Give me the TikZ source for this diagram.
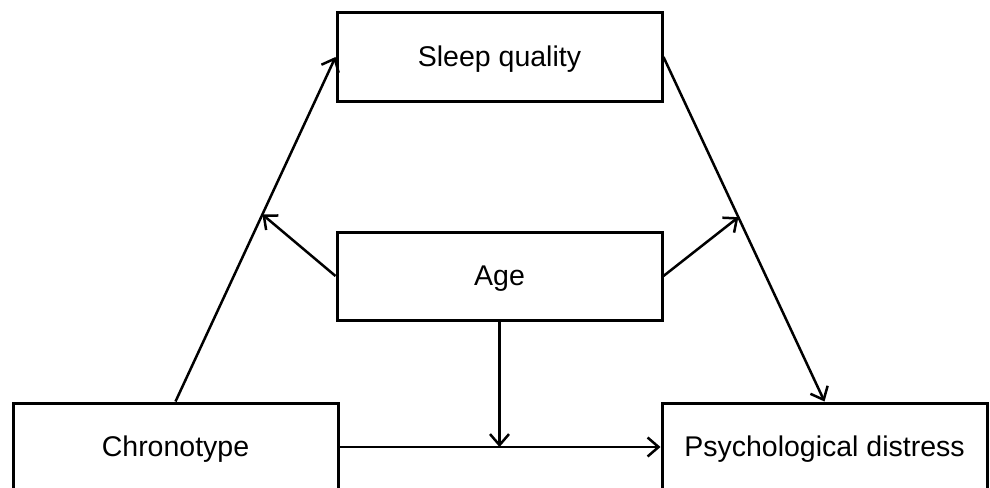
\documentclass[tikz,border=0pt]{standalone}
\usepackage{fontspec}
\setmainfont{Liberation Sans}
\usetikzlibrary{arrows.meta}
\begin{document}
\begin{tikzpicture}[x=1pt,y=-1pt,
  box/.style={draw,line width=3pt,minimum width=325pt,minimum height=88pt,inner sep=0pt,text height=21pt,text depth=2pt,font=\fontsize{28.5}{34}\selectfont},
  arr/.style={line width=2.5pt,-{Straight Barb[length=11pt,width=19pt,line width=2.5pt]}}]
\clip (0,0) rectangle (990,487);
\useasboundingbox (0,0) rectangle (990,487);
\node[box] (sleep) at (499.5,57) {Sleep quality};
\node[box] (age) at (499.5,276) {Age};
\node[box] (chrono) at (175.5,447) {Chronotype};
\node[box] (psych) at (824.5,447) {Psychological distress};
\draw[arr] (chrono.north) -- (sleep.west) coordinate[pos=0.543] (ml);
\draw[arr] (sleep.east) -- (psych.north) coordinate[pos=0.465] (mr);
\draw[arr] (age.west) -- (ml);
\draw[arr] (age.east) -- (mr);
\draw[arr] (chrono.east) -- (psych.west);
\draw[arr] (age.south) -- (age.south |- chrono.east);
\end{tikzpicture}
\end{document}
